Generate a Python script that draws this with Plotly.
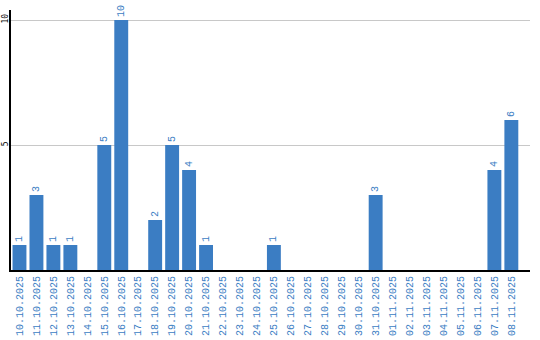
import plotly.graph_objects as go

dates = ["10.10.2025", "11.10.2025", "12.10.2025", "13.10.2025", "14.10.2025",
         "15.10.2025", "16.10.2025", "17.10.2025", "18.10.2025", "19.10.2025",
         "20.10.2025", "21.10.2025", "22.10.2025", "23.10.2025", "24.10.2025",
         "25.10.2025", "26.10.2025", "27.10.2025", "28.10.2025", "29.10.2025",
         "30.10.2025", "31.10.2025", "01.11.2025", "02.11.2025", "03.11.2025",
         "04.11.2025", "05.11.2025", "06.11.2025", "07.11.2025", "08.11.2025"]
values = [1, 3, 1, 1, 0, 5, 10, 0, 2, 5, 4, 1, 0, 0, 0, 1, 0, 0, 0, 0,
          0, 3, 0, 0, 0, 0, 0, 0, 4, 6]
y_ticks = [5, 10]

blue = "#3b7dc3"
labels = [str(v) if v else "" for v in values]

fig = go.Figure(go.Bar(
    x=list(range(len(dates))), y=values, text=labels,
    textposition="outside", textangle=-90, cliponaxis=False,
    textfont=dict(color=blue, size=10, family="Liberation Mono"),
    marker=dict(color=blue, line=dict(width=0)), width=0.82,
))
fig.update_layout(
    width=540, height=340, margin=dict(l=11, r=10, t=10, b=70),
    paper_bgcolor="white", plot_bgcolor="white", showlegend=False,
)
fig.update_xaxes(
    range=[-0.5, 30.1], tickmode="array", tickvals=list(range(len(dates))),
    ticktext=dates, tickangle=-90, showgrid=False, showline=True,
    linecolor="black", linewidth=2, ticks="", automargin=False,
    tickfont=dict(color=blue, size=10, family="Liberation Mono"),
)
fig.update_yaxes(
    range=[0, 10.4], tickmode="array", tickvals=y_ticks,
    ticktext=[str(t) for t in y_ticks], tickangle=-90, automargin=False,
    showgrid=True, gridcolor="#c8c8c8", gridwidth=1, zeroline=False,
    showline=True, linecolor="black", linewidth=2, ticks="", ticklabelstandoff=-2,
    tickfont=dict(color="black", size=8, family="DejaVu Sans Mono"),
)
fig.write_html("out.html")
